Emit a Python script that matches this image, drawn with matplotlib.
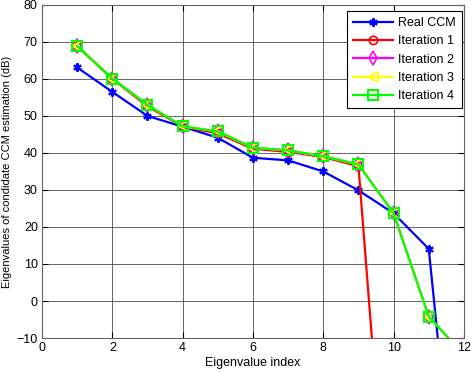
import numpy as np
import matplotlib
matplotlib.use('Agg')
import matplotlib.pyplot as plt

plt.rcParams['font.family'] = ['Liberation Sans', 'DejaVu Sans']

# eigenvalue index
idx = [1, 2, 3, 4, 5, 6, 7, 8, 9, 10, 11, 12]

# eigenvalues in dB (last points are off the bottom)
real_ccm = [63.1, 56.5, 50.0, 47.1, 44.1, 38.7, 38.0, 35.0, 29.9, 23.7, 14.1, -80.0]
iter1 = [68.8, 60.0, 52.6, 47.1, 45.3, 41.1, 40.3, 38.9, 36.4, -85.0, -100.0, -110.0]
iter2 = [68.9, 60.1, 53.0, 47.2, 45.8, 41.4, 40.7, 39.1, 36.9, 23.7, -4.2, -14.6]
iter3 = [68.9, 60.1, 53.0, 47.2, 45.8, 41.4, 40.7, 39.1, 36.9, 23.7, -4.2, -14.6]
iter4 = [68.9, 60.1, 53.0, 47.2, 45.8, 41.4, 40.7, 39.1, 36.9, 23.7, -4.2, -14.6]

labels = ['Real CCM', 'Iteration 1', 'Iteration 2', 'Iteration 3', 'Iteration 4']

fig = plt.figure(figsize=(4.73, 3.73), dpi=100)
ax = fig.add_axes([0.0888, 0.0938, 0.892, 0.893])

ax.plot(idx, real_ccm, color='blue', marker=(6, 2, 0), ms=6, mew=1.5, lw=1.6, label=labels[0])
ax.plot(idx, iter1, color='red', marker='o', mfc='none', ms=6, mew=1.2, lw=1.6, label=labels[1])
ax.plot(idx, iter2, color='magenta', marker='d', mfc='none', ms=7, mew=1.2, lw=1.6, label=labels[2])
ax.plot(idx, iter3, color='yellow', marker='<', mfc='none', ms=7, mew=1.2, lw=1.6, label=labels[3])
ax.plot(idx, iter4, color='#00ff00', marker='s', mfc='none', ms=7, mew=1.5, lw=1.6, label=labels[4])

ax.set_xlim(0, 12)
ax.set_ylim(-10, 80)
ax.set_xticks(np.arange(0, 13, 2))
ax.set_yticks(np.arange(-10, 81, 10))
ax.grid(True, color='0.3', lw=0.6, ls='-')
ax.set_axisbelow(True)
ax.tick_params(direction='in', top=True, right=True, labelsize=9, length=4, pad=3)
for s in ax.spines.values():
    s.set_color('0.4')

ax.set_xlabel('Eigenvalue index', fontsize=9, labelpad=2)
ax.set_ylabel('Eigenvalues of condidate CCM estimation (dB)', fontsize=8, labelpad=3)

leg = ax.legend(loc='upper right', bbox_to_anchor=(0.995, 0.982), borderaxespad=0,
                fontsize=9, fancybox=False, framealpha=1, edgecolor='black',
                handlelength=3.2, labelspacing=0.5, handletextpad=0.4, borderpad=0.5)
leg.get_frame().set_linewidth(0.8)

fig.savefig('out.png', dpi=100)
